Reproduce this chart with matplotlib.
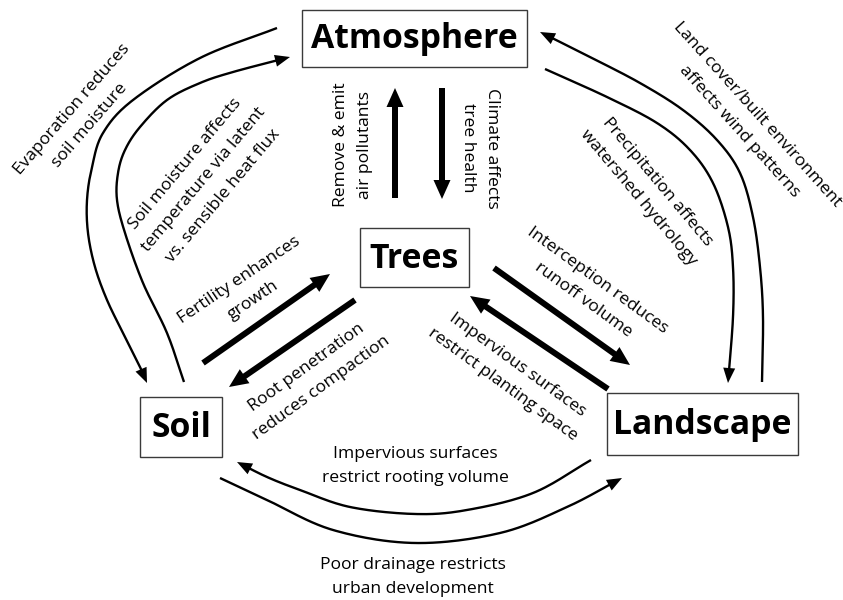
import numpy as np
import matplotlib
matplotlib.use("Agg")
import matplotlib.pyplot as plt
from matplotlib.patches import Rectangle, FancyArrow, Polygon

plt.rcParams['font.family'] = ['Open Sans', 'DejaVu Sans']

# ---- nodes: name, box (x0, y0, x1, y1) in pixel space ----
node_names = ["Atmosphere", "Trees", "Soil", "Landscape"]
node_boxes = [(302, 10, 527, 67), (360, 228, 469, 287), (140, 397, 222, 457), (607, 393, 798, 455)]

# ---- straight thick arrows: (tail, tip) ----
thick_arrows = [
    ((395, 198), (395, 88)),
    ((442, 88), (442, 199)),
    ((203, 363), (330, 274)),
    ((355, 300), (229, 387)),
    ((494, 268), (630, 365)),
    ((608, 389), (470, 296)),
]

# ---- curved thin arrows: sampled path points, arrow head at the last point ----
curve_evap = [(277, 28), (200, 58), (133, 100), (103, 133), (92, 167), (87, 200), (88, 233),
              (95, 267), (107, 300), (123, 333), (140, 367), (147, 383)]
curve_soilmoist = [(184, 382), (167, 333), (143, 283), (125, 233), (117, 200), (118, 173),
                   (125, 150), (140, 127), (167, 100), (200, 83), (233, 72), (290, 57)]
curve_precip = [(545, 69), (607, 97), (657, 123), (690, 150), (713, 183), (728, 227),
                (733, 267), (733, 317), (728, 383)]
curve_landcover = [(762, 382), (763, 317), (760, 267), (753, 217), (740, 173), (717, 140),
                   (683, 110), (640, 83), (590, 57), (540, 32)]
curve_rooting = [(591, 460), (533, 493), (467, 510), (415, 514), (350, 507), (300, 490),
                 (267, 477), (237, 462)]
curve_drainage = [(220, 478), (267, 500), (333, 530), (415, 543), (500, 533), (567, 507), (622, 478)]
curves = [curve_evap, curve_soilmoist, curve_precip, curve_landcover, curve_rooting, curve_drainage]

# ---- labels: text, center, rotation ----
label_texts = [
    "Evaporation reduces\nsoil moisture",
    "Soil moisture affects\ntemperature via latent\nvs. sensible heat flux",
    "Fertility enhances\ngrowth",
    "Root penetration\nreduces compaction",
    "Remove & emit\nair pollutants",
    "Climate affects\ntree health",
    "Interception reduces\nrunoff volume",
    "Impervious surfaces\nrestrict planting space",
    "Precipitation affects\nwatershed hydrology",
    "Land cover/built environment\naffects wind patterns",
    "Impervious surfaces\nrestrict rooting volume",
    "Poor drainage restricts\nurban development",
]
label_centers = [(81, 117), (204, 180), (246, 290), (314, 378), (353, 145), (480, 148),
                 (590, 290), (510, 375), (648, 190), (748, 123), (415, 466), (413, 577)]
label_rotations = [49, 50, 34, 36, 90, -90, -36, -36, -50, -48, 0, 0]


def catmull(pts, n=24):
    pts = np.array(pts, float)
    P = np.vstack([2 * pts[0] - pts[1], pts, 2 * pts[-1] - pts[-2]])
    out = []
    for i in range(1, len(P) - 2):
        p0, p1, p2, p3 = P[i - 1], P[i], P[i + 1], P[i + 2]
        t = np.linspace(0, 1, n, endpoint=False)[:, None]
        seg = 0.5 * ((2 * p1) + (-p0 + p2) * t + (2 * p0 - 5 * p1 + 4 * p2 - p3) * t ** 2
                     + (-p0 + 3 * p1 - 3 * p2 + p3) * t ** 3)
        out.append(seg)
    out.append(P[-2][None])
    return np.vstack(out)


def curved_arrow(ax, pts, head_len=15, head_w=12, lw=1.7):
    c = catmull(pts)
    tip = c[-1]
    d = np.cumsum(np.r_[0, np.hypot(*np.diff(c[::-1], axis=0).T)])
    k = np.searchsorted(d, head_len)
    back = c[::-1][min(k, len(c) - 1)]
    u = (tip - back) / np.hypot(*(tip - back))
    base = tip - u * head_len
    nrm = np.array([-u[1], u[0]])
    keep = c[::-1][k:][::-1]
    line = np.vstack([keep, base + u * 1.0])
    ax.plot(line[:, 0], line[:, 1], color='black', lw=lw, solid_capstyle='butt')
    ax.add_patch(Polygon([tip, base + nrm * head_w / 2, base - nrm * head_w / 2],
                         closed=True, color='black', lw=0))


fig = plt.figure(figsize=(8.43, 6.0), dpi=100)
ax = fig.add_axes([0, 0, 1, 1])
ax.set_xlim(0, 843)
ax.set_ylim(600, 0)
ax.axis('off')

for name, (x0, y0, x1, y1) in zip(node_names, node_boxes):
    ax.add_patch(Rectangle((x0, y0), x1 - x0, y1 - y0, fill=False, edgecolor='#3a3a3a', lw=1.0))
    ax.text((x0 + x1) / 2, (y0 + y1) / 2 + 1, name, ha='center', va='center',
            fontsize=24.3, fontweight='bold', color='black')

for (tx, ty), (hx, hy) in thick_arrows:
    ax.add_patch(FancyArrow(tx, ty, hx - tx, hy - ty, width=6, head_width=17, head_length=19,
                            length_includes_head=True, color='black', lw=0))

for pts in curves:
    curved_arrow(ax, pts)

for txt, (cx, cy), rot in zip(label_texts, label_centers, label_rotations):
    ax.text(cx, cy, txt, ha='center', va='center', multialignment='center', rotation=rot,
            rotation_mode='anchor', fontsize=12.6, linespacing=1.7, color='black')

fig.savefig("out.png", dpi=100)
